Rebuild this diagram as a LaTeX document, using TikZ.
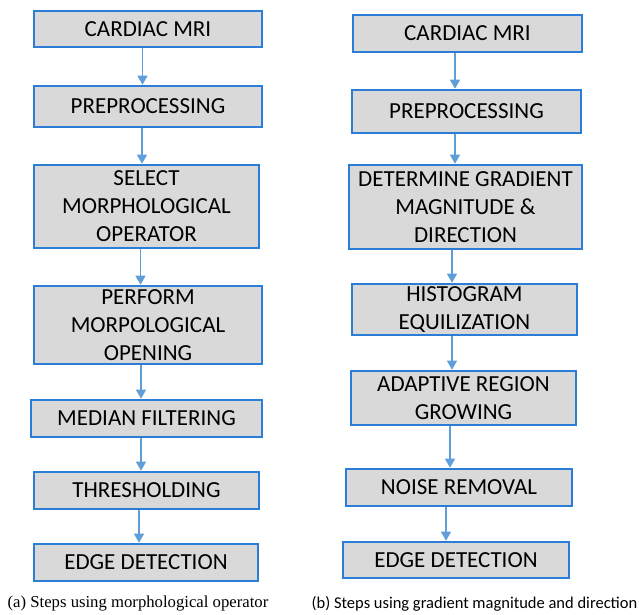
\documentclass[tikz,border=0pt]{standalone}
\usepackage{fontspec}
\usepackage{tikz}
\usetikzlibrary{arrows.meta, calc}
\setmainfont{Liberation Serif}
\newfontfamily\boxfont{Carlito}
\definecolor{boxblue}{RGB}{44,125,214}
\definecolor{boxgray}{RGB}{217,217,217}
\definecolor{arrowblue}{RGB}{95,158,216}
\tikzset{x=1pt,y=-1pt}
\tikzset{stepbox/.style={draw=boxblue, line width=2.6pt, fill=boxgray, inner sep=0pt,
    align=center, font=\boxfont\fontsize{23}{28}\selectfont},
  flow/.style={draw=arrowblue, line width=1.2pt, -{Triangle[width=10pt,length=9pt]}}}

\begin{document}
\begin{tikzpicture}
    \useasboundingbox (0,0) rectangle (642,615);
    % left column
    \node[stepbox, minimum width=228pt, minimum height=36pt] (a1) at (148,29)
      {CARDIAC MRI};
    \node[stepbox, minimum width=228pt, minimum height=41pt] (a2) at (148,106.5)
      {PREPROCESSING};
    \node[stepbox, minimum width=225pt, minimum height=83pt] (a3) at (146.5,206.5)
      {SELECT\\ MORPHOLOGICAL\\ OPERATOR};
    \node[stepbox, minimum width=228pt, minimum height=78pt] (a4) at (148,325)
      {PERFORM\\ MORPOLOGICAL\\ OPENING};
    \node[stepbox, minimum width=231pt, minimum height=37pt] (a5) at (146.5,418.5)
      {MEDIAN FILTERING};
    \node[stepbox, minimum width=225pt, minimum height=37pt] (a6) at (146.5,490.5)
      {THRESHOLDING};
    \node[stepbox, minimum width=224pt, minimum height=37pt] (a7) at (146,562.5)
      {EDGE DETECTION};
    % right column
    \node[stepbox, minimum width=229pt, minimum height=37pt] (b1) at (467.5,33.5)
      {CARDIAC MRI};
    \node[stepbox, minimum width=229pt, minimum height=43pt] (b2) at (466.5,111.5)
      {PREPROCESSING};
    \node[stepbox, minimum width=233pt, minimum height=84pt] (b3) at (465.5,207)
      {DETERMINE GRADIENT\\ MAGNITUDE \&\\ DIRECTION};
    \node[stepbox, minimum width=225pt, minimum height=51pt] (b4) at (464.5,309.5)
      {HISTOGRAM\\ EQUILIZATION};
    \node[stepbox, minimum width=225pt, minimum height=54pt] (b5) at (463.5,398)
      {ADAPTIVE REGION\\ GROWING};
    \node[stepbox, minimum width=226pt, minimum height=37pt] (b6) at (459,487.5)
      {NOISE REMOVAL};
    \node[stepbox, minimum width=226pt, minimum height=36pt] (b7) at (456,560)
      {EDGE DETECTION};
    % arrows
    \foreach \from/\to/\ax in {a1/a2/142.5, a2/a3/142, a3/a4/140.5, a4/a5/141,
        a5/a6/141, a6/a7/139, b1/b2/455, b2/b3/455, b3/b4/452,
        b4/b5/452, b5/b6/450, b6/b7/446}
      \draw[flow] (\ax,0 |- \from.south) -- (\ax,0 |- \to.north);
    % captions
    \node[font=\fontsize{16.7}{20}\selectfont] (capa) at (138,604)
      {(a) Steps using morphological operator};
    \node[font=\boxfont\fontsize{16.5}{20}\selectfont] (capb) at (474.5,604)
      {(b) Steps using gradient magnitude and direction};
\end{tikzpicture}
\end{document}
